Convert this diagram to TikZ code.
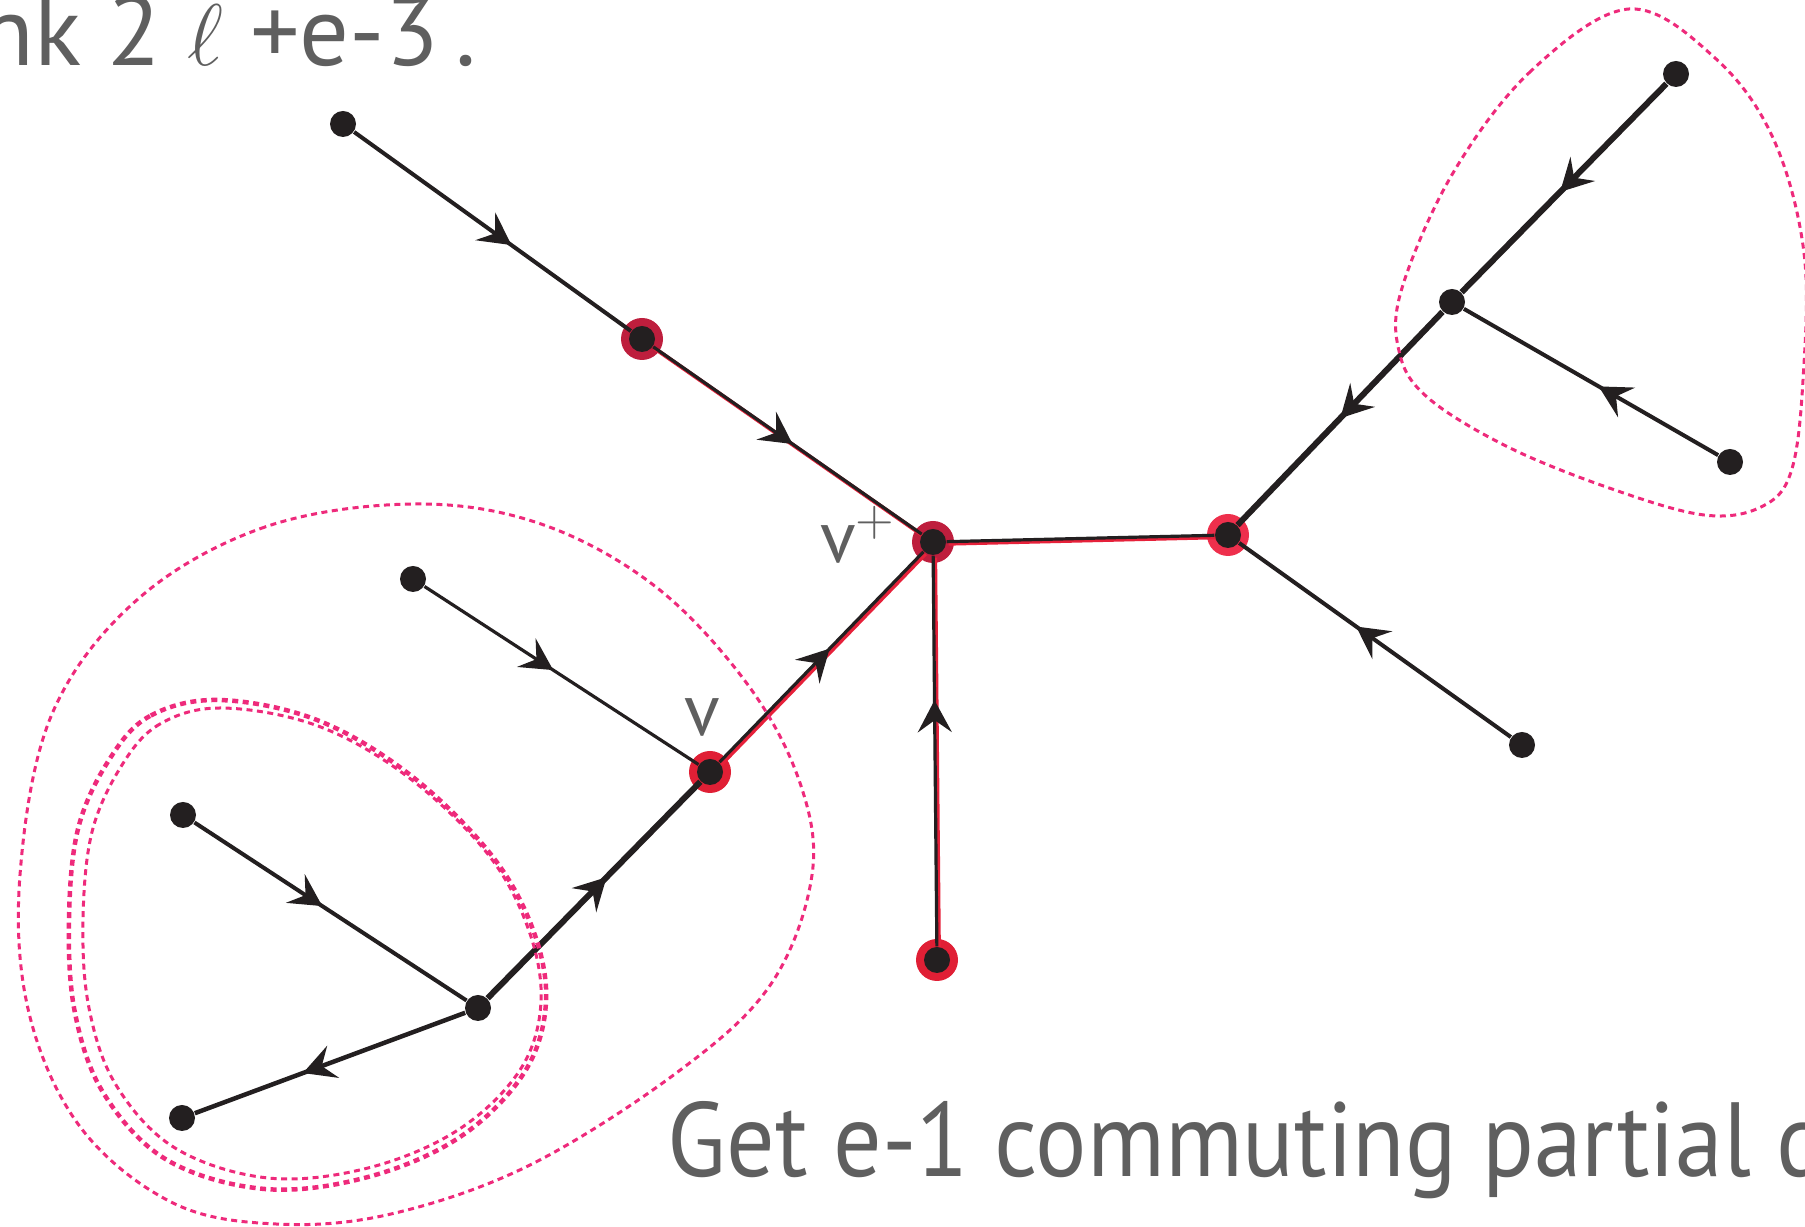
\documentclass[tikz,border=0pt]{standalone}
\usepackage{fontspec}
\usepackage{graphicx}
\setmainfont{PT Sans}
\usetikzlibrary{arrows.meta,decorations.markings}

\definecolor{ink}{HTML}{231F20}
\definecolor{crimson}{HTML}{BE1E3D}
\definecolor{scarlet}{HTML}{E01F35}
\definecolor{rose}{HTML}{EE2F4C}
\definecolor{tracered}{HTML}{E6213A}
\definecolor{hullpink}{HTML}{EE2A7B}
\definecolor{greytext}{HTML}{5F5F5F}

\pgfdeclarelayer{halos}
\pgfdeclarelayer{edges}
\pgfsetlayers{halos,edges,main}

\begin{document}
\begin{tikzpicture}[
  x=0.1mm, y=-0.1mm,
  vert/.style={circle, fill=ink, inner sep=0pt, minimum size=2.6mm},
  branch/.style={draw=ink, line width=0.4mm},
  heavy/.style={draw=ink, line width=0.6mm},
  light/.style={draw=ink, line width=0.32mm},
  trace/.style={draw=tracered, line width=0.4mm, transform canvas={xshift=0.2mm, yshift=-0.2mm}},
  flow/.style={postaction={decorate}, decoration={markings,
    mark=at position #1 with {\arrow{Stealth[length=3.2mm, width=3.4mm, inset=1.2mm]}}}},
  hull/.style={draw=hullpink, line width=0.3mm, dash pattern=on 0.6mm off 0.45mm},
  caption/.style={text=greytext, inner sep=0pt, anchor=base west},
  tag/.style={text=greytext, inner sep=0pt, font=\fontsize{21}{25}\selectfont}
]
\useasboundingbox (0,0) rectangle (1805,1227);
\clip (0,0) rectangle (1805,1227);

% vertices
\node[vert] (A) at (343,124) {};
\node[vert] (B) at (642,339) {};
\node[vert] (vp) at (933,542) {};
\node[vert] (C) at (1228,535) {};
\node[vert] (D) at (1522,745) {};
\node[vert] (E) at (1452,302) {};
\node[vert] (F) at (1676,74) {};
\node[vert] (G) at (1730,462) {};
\node[vert] (V) at (710,772) {};
\node[vert] (H) at (413,579) {};
\node[vert] (I) at (478,1008) {};
\node[vert] (J) at (183,815) {};
\node[vert] (K) at (182,1118) {};
\node[vert] (L) at (937,960) {};

\begin{pgfonlayer}{halos}
  \foreach \n/\c in {B/crimson, vp/crimson, V/scarlet, L/scarlet, C/rose}
    \fill[\c] (\n.center) circle (2.1mm);
\end{pgfonlayer}

\begin{pgfonlayer}{edges}
  % red path through v+
  \foreach \s/\t in {B/vp, vp/C, V/vp, L/vp}
    \draw[trace] (\s) -- (\t);
  \draw[branch, flow=0.57] (A) -- (B);
  \draw[light, flow=0.52] (B) -- (vp);
  \draw[light] (vp) -- (C);
  \draw[light, flow=0.54] (V) -- (vp);
  \draw[light, flow=0.63] (L) -- (vp);
  \draw[light, flow=0.47] (H) -- (V);
  \draw[heavy, flow=0.56] (I) -- (V);
  \draw[branch, flow=0.47] (J) -- (I);
  \draw[branch, line width=0.45mm, flow=0.6] (I) -- (K);
  \draw[branch, flow=0.57] (D) -- (C);
  \draw[heavy, flow=0.5] (E) -- (C);
  \draw[heavy, flow=0.52] (F) -- (E);
  \draw[branch, flow=0.47] (G) -- (E);
\end{pgfonlayer}

% dashed hulls
\draw[hull] plot[smooth cycle, tension=0.6] coordinates {
  (1629,9) (1531,71) (1453,173) (1402,288) (1399,351) (1427,397) (1508,447)
  (1612,489) (1704,515) (1761,507) (1791,472) (1803,380) (1804,253) (1773,138) (1715,58)};
\draw[hull] plot[smooth cycle, tension=0.6] coordinates {
  (414,504) (265,527) (138,599) (52,714) (20,875) (29,1013) (81,1128) (173,1203)
  (276,1224) (391,1214) (530,1165) (679,1071) (771,984) (812,875) (800,783)
  (748,685) (656,587) (541,524)};
\draw[hull, line width=0.45mm] plot[smooth cycle, tension=0.6] coordinates {
  (219,700) (150,716) (109,760) (78,829) (69,921) (75,1013) (104,1094) (167,1160)
  (265,1189) (368,1177) (460,1137) (524,1073) (546,1002) (532,927) (489,852)
  (409,774) (317,720)};
\draw[hull] plot[smooth cycle, tension=0.6] coordinates {
  (222,708) (160,724) (122,765) (92,832) (83,921) (89,1008) (116,1085) (175,1148)
  (268,1178) (368,1168) (458,1130) (520,1070) (541,1002) (528,928) (487,853)
  (408,777) (318,726)};

% labels and text
\node[tag] (vlab) at (702,717) {v};
\node[tag] (vplab) at (858,535) {v$^{+}$};
\node[caption, font=\fontsize{28}{32}\selectfont] (prev) at (-20,66)
  {nk 2 {\fontsize{36}{40}\selectfont$\ell$} +e-3\,.};
\node[caption, font=\fontsize{30}{34}\selectfont] (claim) at (667,1177)
  {\scalebox{0.91}[1]{Get e-1 commuting partial d}};
\end{tikzpicture}
\end{document}
